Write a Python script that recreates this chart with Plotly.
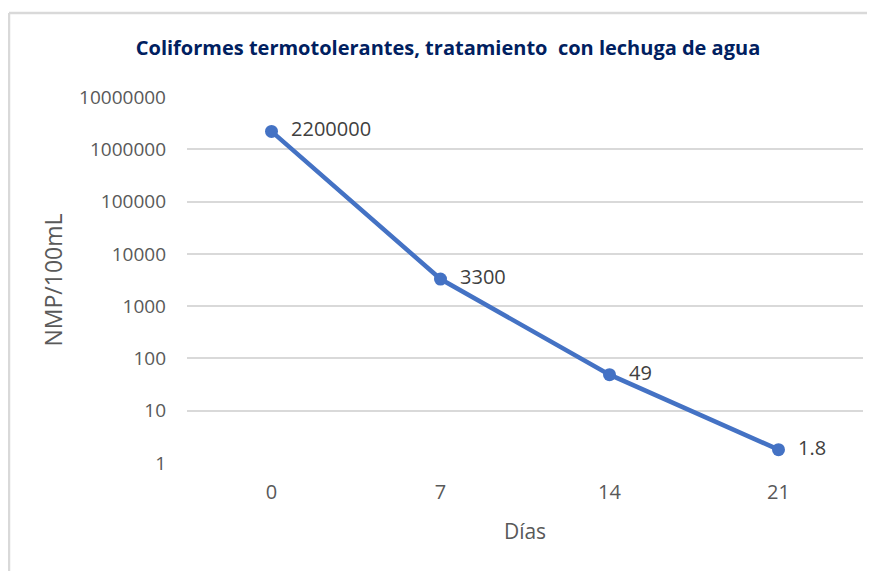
import plotly.graph_objects as go

dias = ["0", "7", "14", "21"]
nmp = [2200000, 3300, 49, 1.8]
etiquetas = ["2200000", "3300", "49", "1.8"]
y_ticks = [1, 10, 100, 1000, 10000, 100000, 1000000, 10000000]
y_tick_labels = ["1", "10", "100", "1000", "10000", "100000", "1000000", "10000000"]

OFF = 8  # page body margin
W, H = 875 - OFF, 571 - OFF
L, T = 187 - OFF, 97 - OFF
R = W - (863 - OFF)
B = H - (463 - OFF)
pw, ph = W - L - R, H - T - B

def px(x):
    return (x - OFF - L) / pw

def py(y):
    return (H - B - (y - OFF)) / ph

fig = go.Figure()
fig.add_trace(go.Scatter(
    x=dias, y=nmp, mode="lines+markers+text",
    text=["  " + t for t in etiquetas], textposition="middle right",
    textfont=dict(family="Open Sans", size=20, color="#404040"),
    line=dict(color="#4472C4", width=4.5),
    marker=dict(color="#4472C4", size=13),
    cliponaxis=False, hoverinfo="x+y",
))

fig.update_layout(
    width=W, height=H,
    margin=dict(l=L, r=R, t=T, b=B, autoexpand=False),
    paper_bgcolor="white", plot_bgcolor="white",
    showlegend=False,
    title=dict(text="<b>Coliformes termotolerantes, tratamiento  con lechuga de agua</b>",
               x=(448 - OFF) / W, xanchor="center", y=1 - (48 - OFF) / H, yanchor="middle",
               font=dict(family="Open Sans", size=20, color="#002060")),
    xaxis=dict(type="category", range=[-0.5, 3.5], showgrid=False, zeroline=False, showline=False,
               ticks="", ticklabelstandoff=15,
               tickfont=dict(family="Open Sans", size=20, color="#595959"),
               title=dict(text="Días", standoff=20,
                          font=dict(family="Open Sans", size=21, color="#595959"))),
    yaxis=dict(type="log", range=[0, 7], tickvals=y_ticks, ticktext=y_tick_labels,
               showgrid=True, gridcolor="#D9D9D9", gridwidth=1.5, zeroline=False,
               showline=False, ticks="", ticklabelstandoff=20,
               tickfont=dict(family="Open Sans", size=19, color="#595959"),
               title=dict(text="NMP/100mL", standoff=10,
                          font=dict(family="Open Sans", size=23, color="#595959"))),
    shapes=[
        dict(type="line", xref="paper", yref="paper", x0=px(9), x1=px(880), y0=py(13), y1=py(13),
             line=dict(color="#D9D9D9", width=2.5)),
        dict(type="line", xref="paper", yref="paper", x0=px(9), x1=px(9), y0=py(13), y1=py(580),
             line=dict(color="#D9D9D9", width=2.5)),
    ],
)

fig.write_html("out.html")
